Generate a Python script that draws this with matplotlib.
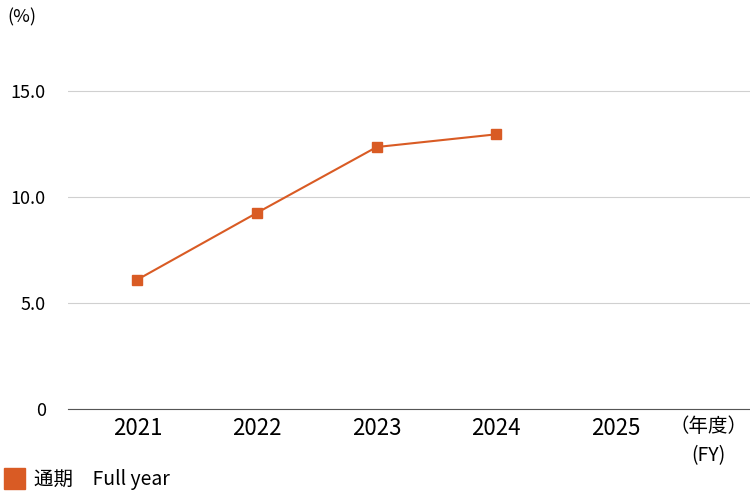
import matplotlib
matplotlib.use('Agg')
import matplotlib.pyplot as plt

plt.rcParams['font.family'] = ['Noto Sans CJK JP', 'DejaVu Sans']

years = ['2021', '2022', '2023', '2024', '2025']
values = [6.1, 9.25, 12.35, 12.95]
yticks = [0, 5, 10, 15]
ytick_labels = ['0', '5.0', '10.0', '15.0']
color = '#d95b24'

fig = plt.figure(figsize=(7.5, 5), dpi=100)
ax = fig.add_axes([0.0907, 0.182, 0.9093, 0.70])

ax.plot(range(len(values)), values, color=color, lw=1.5, marker='s', ms=7)

ax.set_xlim(-0.58, 5.12)
ax.set_ylim(0, 16.5)
ax.set_xticks(range(len(years)))
ax.set_xticklabels(years, fontsize=16)
ax.set_yticks(yticks)
ax.set_yticklabels(ytick_labels, fontsize=13)
ax.tick_params(length=0, pad=6)
ax.tick_params(axis='y', pad=16)
ax.grid(axis='y', color='#d0d0d0', lw=0.8)
for s in ['top', 'right', 'left']:
    ax.spines[s].set_visible(False)
ax.spines['bottom'].set_color('#555555')
ax.set_axisbelow(True)

fig.text(0.01, 0.955, '(%)', fontsize=13)
fig.text(0.945, 0.118, '（年度）\n(FY)', fontsize=14, ha='center', va='center', linespacing=1.5)

fig.patches.append(plt.Rectangle((0.005, 0.022), 0.028, 0.042, transform=fig.transFigure,
                                 color=color))
fig.text(0.045, 0.042, '通期　Full year', fontsize=14, va='center')

fig.savefig('out.png', dpi=100)
